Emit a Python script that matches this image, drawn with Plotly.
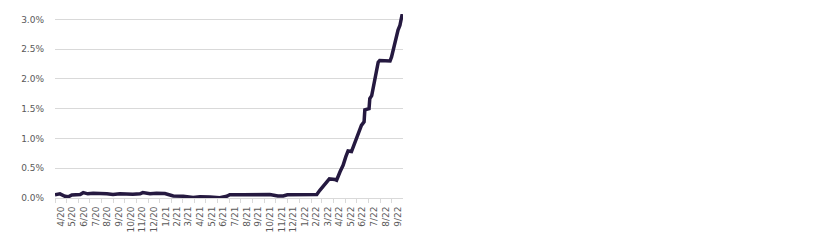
import plotly.graph_objects as go

dates = [
    "2020-04-01", "2020-04-14", "2020-04-27", "2020-05-06", "2020-05-15", "2020-06-06",
    "2020-06-14", "2020-06-26", "2020-07-10", "2020-07-28", "2020-08-15", "2020-08-31",
    "2020-09-18", "2020-10-22", "2020-11-10", "2020-11-17", "2020-12-06", "2020-12-23",
    "2021-01-14", "2021-02-05", "2021-03-03", "2021-03-29", "2021-04-16", "2021-05-12",
    "2021-06-07", "2021-06-25", "2021-07-03", "2021-08-07", "2021-09-11", "2021-10-08",
    "2021-10-16", "2021-11-06", "2021-11-20", "2021-12-01", "2021-12-25", "2022-01-20",
    "2022-02-06", "2022-02-11", "2022-02-16", "2022-02-24", "2022-03-05", "2022-03-14",
    "2022-03-21", "2022-04-05", "2022-04-09", "2022-04-18", "2022-04-26", "2022-05-03",
    "2022-05-09", "2022-05-18", "2022-05-27", "2022-06-05", "2022-06-13", "2022-06-20",
    "2022-06-22", "2022-07-03", "2022-07-05", "2022-07-10", "2022-07-14", "2022-07-18",
    "2022-07-23", "2022-07-27", "2022-07-31", "2022-08-27", "2022-08-31", "2022-09-04",
    "2022-09-09", "2022-09-13", "2022-09-17", "2022-09-22", "2022-09-26", "2022-09-28",
]
rates = [
    0.055, 0.07, 0.03, 0.02, 0.05, 0.06,
    0.09, 0.07, 0.08, 0.08, 0.07, 0.06,
    0.07, 0.065, 0.07, 0.09, 0.07, 0.08,
    0.075, 0.035, 0.03, 0.01, 0.02, 0.015,
    0.005, 0.03, 0.055, 0.055, 0.055, 0.06,
    0.06, 0.035, 0.035, 0.055, 0.055, 0.055,
    0.05, 0.05, 0.06, 0.13, 0.20, 0.27,
    0.32, 0.31, 0.30, 0.44, 0.55, 0.69,
    0.79, 0.78, 0.94, 1.08, 1.22, 1.28,
    1.48, 1.50, 1.67, 1.72, 1.87, 1.98,
    2.17, 2.28, 2.31, 2.30, 2.37, 2.48,
    2.59, 2.68, 2.82, 2.90, 3.04, 3.09,
]
y_ticks = [0, 0.5, 1.0, 1.5, 2.0, 2.5, 3.0]
y_labels = ["0.0%", "0.5%", "1.0%", "1.5%", "2.0%", "2.5%", "3.0%"]

fig = go.Figure(go.Scatter(
    x=dates, y=rates, mode="lines",
    line=dict(color="#251940", width=3.5),
    hoverinfo="skip",
))

font = dict(family="DejaVu Sans", size=9, color="#595959")
fig.update_layout(
    width=813, height=241,
    margin=dict(l=55, r=410, t=14, b=43),
    paper_bgcolor="white", plot_bgcolor="white",
    showlegend=False,
    font=font,
)
fig.update_xaxes(
    type="date",
    range=["2020-04-01", "2022-09-30"],
    dtick="M1", tick0="2020-04-01",
    ticklabelmode="period",
    tickformat="%-m/%y",
    tickangle=-90,
    ticks="outside", ticklen=4, tickcolor="#d9d9d9",
    showline=True, linecolor="#d9d9d9", linewidth=1,
    showgrid=False, zeroline=False,
    tickfont=font,
    automargin=False,
)
fig.update_yaxes(
    range=[0, 3.09],
    tickvals=y_ticks, ticktext=y_labels,
    showgrid=True, gridcolor="#d9d9d9", gridwidth=1,
    zeroline=False, showline=False,
    ticks="", ticklabelstandoff=10,
    tickfont=font,
    automargin=False,
)
fig.write_html("out.html")
